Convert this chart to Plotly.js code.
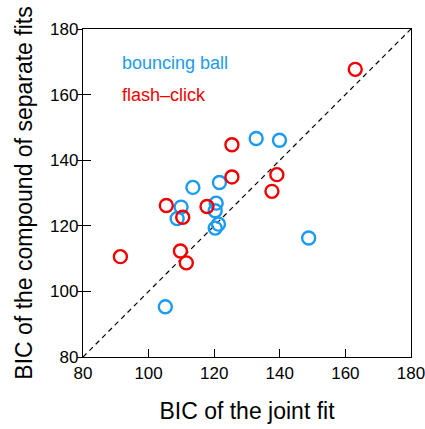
<!DOCTYPE html>
<html><head><meta charset="utf-8">
<script src="https://cdn.plot.ly/plotly-3.0.1.min.js"></script>
<style>html,body{margin:0;padding:0;background:#fff}#chart{width:425px;height:429px}</style>
</head><body><div id="chart"></div>
<script>
const ballJoint = [113.5, 121.6, 109.9, 108.7, 120.6, 120.3, 121.3, 120.3, 148.8, 105.1, 132.8, 139.9];
const ballSeparate = [131.7, 133.2, 125.7, 122.2, 126.9, 124.6, 120.5, 119.3, 116.3, 95.3, 146.6, 146.1];
const flashJoint = [163.0, 125.4, 125.4, 139.1, 137.6, 105.4, 117.8, 110.4, 91.4, 109.7, 111.5];
const flashSeparate = [167.7, 144.7, 134.9, 135.6, 130.5, 126.2, 125.9, 122.6, 110.6, 112.3, 108.7];
const axisRange = [80, 180];
const tickVals = [80, 100, 120, 140, 160, 180];
const seriesNames = ['bouncing ball', 'flash\u2013click'];
const blue = '#1a9bf0', red = '#f20000';

const font = 'Liberation Sans, Arial, Helvetica, sans-serif';
const traces = [
  {x: axisRange, y: axisRange, mode: 'lines', line: {color: '#000', width: 1.2, dash: '5px,4px'}, hoverinfo: 'skip', showlegend: false},
  {x: ballJoint, y: ballSeparate, mode: 'markers', name: seriesNames[0],
   marker: {symbol: 'circle-open', size: 13, color: blue, line: {width: 2.4, color: blue}}},
  {x: flashJoint, y: flashSeparate, mode: 'markers', name: seriesNames[1],
   marker: {symbol: 'circle-open', size: 13, color: red, line: {width: 2.4, color: red}}},
  {x: axisRange, y: axisRange, yaxis: 'y2', mode: 'lines', line: {width: 0, color: 'rgba(0,0,0,0)'}, hoverinfo: 'skip', showlegend: false}
];
const layout = {
  width: 425, height: 429,
  margin: {l: 83, r: 14, t: 29, b: 72},
  paper_bgcolor: '#fff', plot_bgcolor: '#fff',
  showlegend: false,
  font: {family: font, color: '#000', size: 17},
  xaxis: {range: axisRange, tickvals: tickVals, ticks: 'inside', ticklen: 8, tickwidth: 1, tickcolor: '#000',
    ticklabeloverflow: 'allow',
    showline: true, linecolor: '#000', linewidth: 1.2, mirror: true, showgrid: false, zeroline: false,
    tickfont: {size: 17, family: font}, title: {text: 'BIC of the joint fit', font: {size: 23, family: font}, standoff: 21}},
  yaxis: {range: axisRange, tickvals: tickVals, ticks: 'inside', ticklen: 8, tickwidth: 1, tickcolor: '#000',
    ticklabeloverflow: 'allow',
    showline: true, linecolor: '#000', linewidth: 1.2, mirror: true, showgrid: false, zeroline: false,
    tickfont: {size: 17, family: font}, title: {text: 'BIC of the compound of separate fits', font: {size: 23, family: font}, standoff: 11}},
  yaxis2: {range: axisRange, tickvals: tickVals, overlaying: 'y', side: 'left', ticks: 'outside', ticklen: 5, tickwidth: 1,
    tickcolor: '#000', showticklabels: false, showline: false, showgrid: false, zeroline: false},
  annotations: [
    {xref: 'paper', yref: 'paper', x: 0.113, y: 0.896, xanchor: 'left', yanchor: 'middle', showarrow: false,
     text: seriesNames[0], font: {size: 18, color: blue, family: font}},
    {xref: 'paper', yref: 'paper', x: 0.113, y: 0.799, xanchor: 'left', yanchor: 'middle', showarrow: false,
     text: seriesNames[1], font: {size: 18, color: red, family: font}}
  ]
};
Plotly.newPlot('chart', traces, layout, {staticPlot: true, displayModeBar: false});
</script></body></html>
